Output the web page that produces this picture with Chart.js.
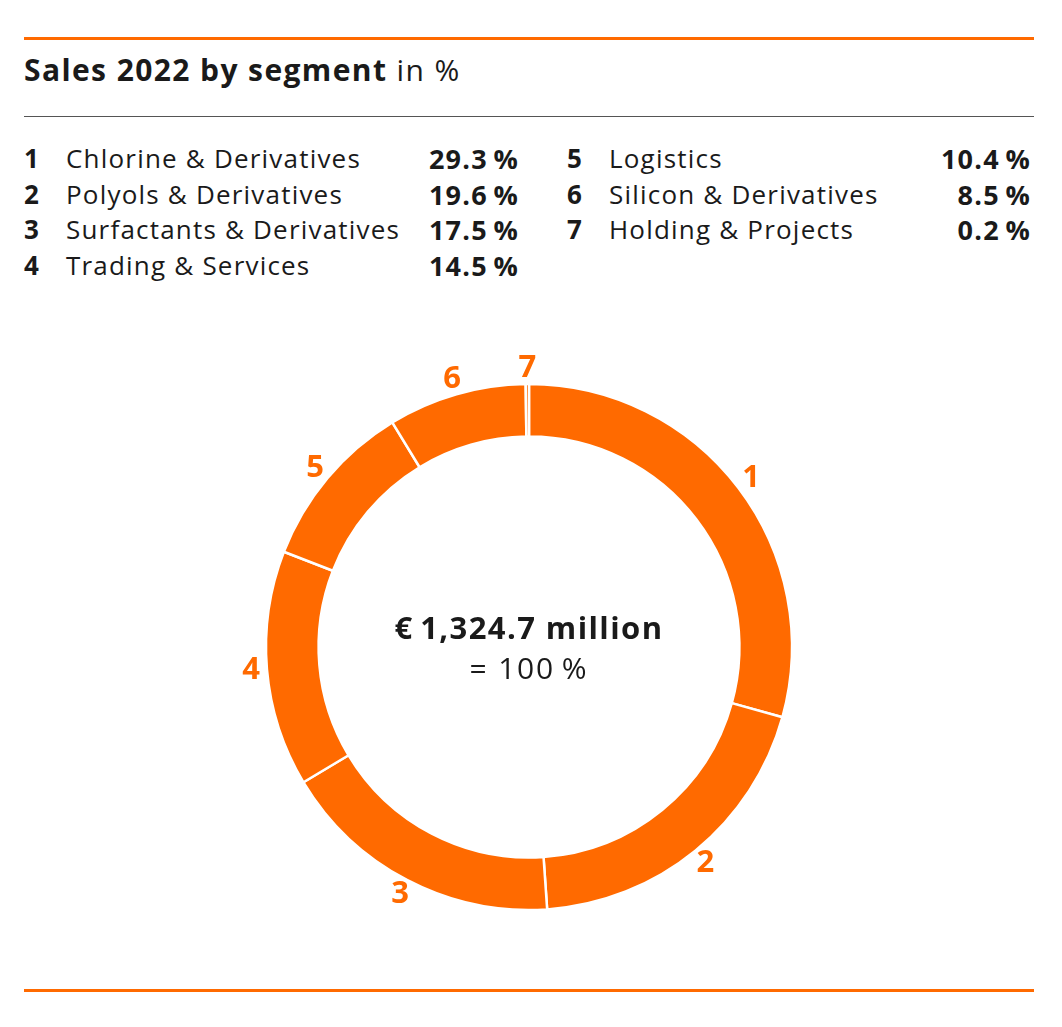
<!DOCTYPE html>
<html>
<head>
<meta charset="utf-8">
<script src="https://cdn.jsdelivr.net/npm/chart.js@4.4.0/dist/chart.umd.min.js"></script>
<style>
  body { margin: 0; background: #fff; font-family: "Open Sans", sans-serif; color: #1a1a1a; }
  #page { position: relative; width: 1062px; height: 1027px; overflow: hidden; }
  .rule-orange { position: absolute; left: 24px; width: 1010px; height: 3px; background: #ff6a00; }
  .rule-grey { position: absolute; left: 24px; width: 1010px; height: 1px; background: #555; top: 116px; }
  #title { position: absolute; left: 24px; top: 50px; font-size: 30px; line-height: 40px; letter-spacing: 1.4px; white-space: nowrap; }
  #title b { font-weight: 700; }
  .row { position: absolute; font-size: 26px; line-height: 35.5px; letter-spacing: 1.2px; white-space: nowrap; }
  .row .num { position: absolute; left: 0; font-weight: 700; }
  .row .name { position: absolute; left: 42px; }
  .row .val { position: absolute; right: 0; font-weight: 700; font-size: 27px; letter-spacing: 1.2px; }
  #chartBox { position: absolute; left: 229px; top: 347px; width: 600px; height: 600px; }
</style>
</head>
<body>
<div id="page">
  <div class="rule-orange" style="top:37px"></div>
  <div id="title"><b>Sales 2022 by segment</b> in %</div>
  <div class="rule-grey"></div>
  <div id="legend"></div>
  <div id="chartBox"><canvas id="myChart"></canvas></div>
  <div class="rule-orange" style="top:989px"></div>
</div>
<script>
// Segment ids, names and shares of sales (in %)
const segmentIds = ['1', '2', '3', '4', '5', '6', '7'];
const segmentNames = [
    'Chlorine & Derivatives',
    'Polyols & Derivatives',
    'Surfactants & Derivatives',
    'Trading & Services',
    'Logistics',
    'Silicon & Derivatives',
    'Holding & Projects'
];
const segmentShares = [29.3, 19.6, 17.5, 14.5, 10.4, 8.5, 0.2];

const orange = '#ff6a00';

// Build the two-column legend table above the chart
function buildLegend() {
    const legend = document.getElementById('legend');
    segmentIds.forEach((id, i) => {
        const col = i < 4 ? 0 : 1;
        const rowIdx = i < 4 ? i : i - 4;
        const row = document.createElement('div');
        row.className = 'row';
        row.style.left = col === 0 ? '24px' : '567px';
        row.style.width = col === 0 ? '495px' : '464px';
        row.style.top = (141 + rowIdx * 35.5) + 'px';
        row.innerHTML = `<span class="num">${id}</span><span class="name"></span>` +
            `<span class="val">${segmentShares[i].toFixed(1)}\u2009%</span>`;
        row.querySelector('.name').textContent = segmentNames[i];
        legend.appendChild(row);
    });
}

// Draws segment numbers around the ring and the total in the middle
const ringLabels = {
    id: 'ringLabels',
    afterDatasetsDraw(chart) {
        const ctx = chart.ctx;
        const meta = chart.getDatasetMeta(0);
        ctx.save();
        ctx.fillStyle = orange;
        ctx.font = 'bold 31px "Open Sans"';
        ctx.textAlign = 'center';
        ctx.textBaseline = 'middle';
        let cx = 0, cy = 0;
        meta.data.forEach((arc, i) => {
            const p = arc.getProps(['x', 'y', 'startAngle', 'endAngle', 'outerRadius'], true);
            const mid = (p.startAngle + p.endAngle) / 2;
            const r = p.outerRadius + 16;
            cx = p.x; cy = p.y;
            ctx.fillText(chart.data.labels[i], p.x + Math.cos(mid) * r, p.y + Math.sin(mid) * r);
        });

        // Centre text
        ctx.fillStyle = '#1a1a1a';
        ctx.textBaseline = 'alphabetic';
        ctx.letterSpacing = '1.4px';
        ctx.font = 'bold 31px "Open Sans"';
        ctx.fillText('\u20ac\u20091,324.7 million', cx, cy - 8);
        ctx.letterSpacing = '1.8px';
        ctx.font = '30px "Open Sans"';
        ctx.fillText('= 100\u2009%', cx, cy + 32);
        ctx.restore();
    }
};

function drawChart() {
    const ctx = document.getElementById('myChart').getContext('2d');
    new Chart(ctx, {
        type: 'doughnut',
        data: {
            labels: segmentIds,
            datasets: [{
                data: segmentShares,
                backgroundColor: orange,
                borderColor: '#ffffff',
                borderWidth: 2.5
            }]
        },
        options: {
            responsive: true,
            maintainAspectRatio: false,
            animation: false,
            radius: 263,
            cutout: '80%',
            layout: { padding: 0 },
            plugins: {
                legend: { display: false },
                tooltip: { enabled: false }
            }
        },
        plugins: [ringLabels]
    });
}

window.onload = function () {
    buildLegend();
    drawChart();
};
</script>
</body>
</html>
